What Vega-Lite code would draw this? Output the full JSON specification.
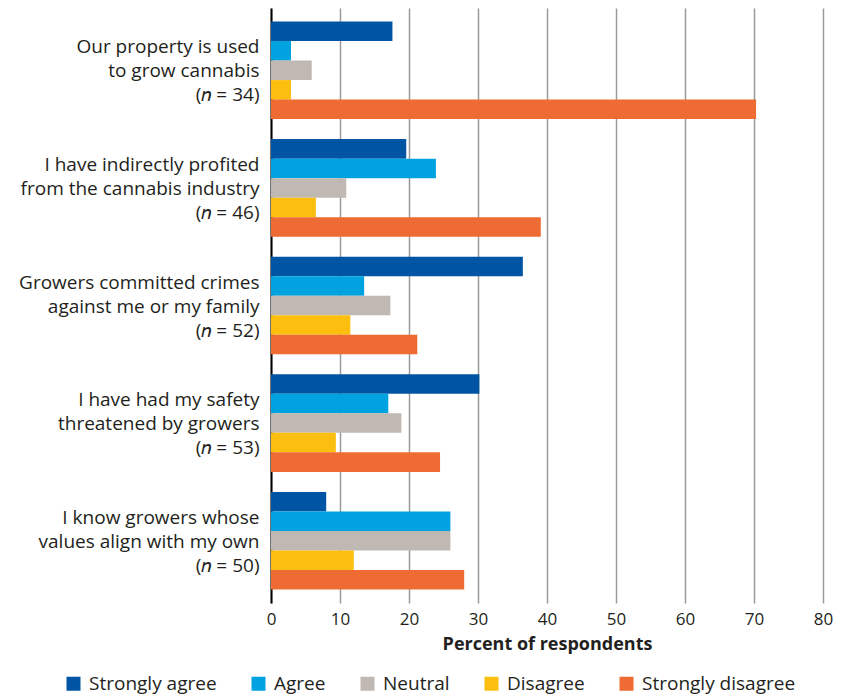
{
  "$schema": "https://vega.github.io/schema/vega-lite/v6.json",
  "width": 552,
  "height": 595,
  "autosize": "none",
  "padding": {"left": 271, "top": 8, "right": 23, "bottom": 93},
  "background": "white",
  "config": {
    "font": "Open Sans",
    "view": {"stroke": null},
    "axis": {"labelColor": "#231f20", "titleColor": "#231f20"}
  },
  "data": {
    "values": [
      {"q": "Our property is used|to grow cannabis|(𝑛 = 34)", "r": "Strongly agree", "v": 17.6},
      {"q": "Our property is used|to grow cannabis|(𝑛 = 34)", "r": "Agree", "v": 2.9},
      {"q": "Our property is used|to grow cannabis|(𝑛 = 34)", "r": "Neutral", "v": 5.9},
      {"q": "Our property is used|to grow cannabis|(𝑛 = 34)", "r": "Disagree", "v": 2.9},
      {"q": "Our property is used|to grow cannabis|(𝑛 = 34)", "r": "Strongly disagree", "v": 70.3},
      {"q": "I have indirectly profited|from the cannabis industry|(𝑛 = 46)", "r": "Strongly agree", "v": 19.6},
      {"q": "I have indirectly profited|from the cannabis industry|(𝑛 = 46)", "r": "Agree", "v": 23.9},
      {"q": "I have indirectly profited|from the cannabis industry|(𝑛 = 46)", "r": "Neutral", "v": 10.9},
      {"q": "I have indirectly profited|from the cannabis industry|(𝑛 = 46)", "r": "Disagree", "v": 6.5},
      {"q": "I have indirectly profited|from the cannabis industry|(𝑛 = 46)", "r": "Strongly disagree", "v": 39.1},
      {"q": "Growers committed crimes|against me or my family|(𝑛 = 52)", "r": "Strongly agree", "v": 36.5},
      {"q": "Growers committed crimes|against me or my family|(𝑛 = 52)", "r": "Agree", "v": 13.5},
      {"q": "Growers committed crimes|against me or my family|(𝑛 = 52)", "r": "Neutral", "v": 17.3},
      {"q": "Growers committed crimes|against me or my family|(𝑛 = 52)", "r": "Disagree", "v": 11.5},
      {"q": "Growers committed crimes|against me or my family|(𝑛 = 52)", "r": "Strongly disagree", "v": 21.2},
      {"q": "I have had my safety|threatened by growers|(𝑛 = 53)", "r": "Strongly agree", "v": 30.2},
      {"q": "I have had my safety|threatened by growers|(𝑛 = 53)", "r": "Agree", "v": 17.0},
      {"q": "I have had my safety|threatened by growers|(𝑛 = 53)", "r": "Neutral", "v": 18.9},
      {"q": "I have had my safety|threatened by growers|(𝑛 = 53)", "r": "Disagree", "v": 9.4},
      {"q": "I have had my safety|threatened by growers|(𝑛 = 53)", "r": "Strongly disagree", "v": 24.5},
      {"q": "I know growers whose|values align with my own|(𝑛 = 50)", "r": "Strongly agree", "v": 8.0},
      {"q": "I know growers whose|values align with my own|(𝑛 = 50)", "r": "Agree", "v": 26.0},
      {"q": "I know growers whose|values align with my own|(𝑛 = 50)", "r": "Neutral", "v": 26.0},
      {"q": "I know growers whose|values align with my own|(𝑛 = 50)", "r": "Disagree", "v": 12.0},
      {"q": "I know growers whose|values align with my own|(𝑛 = 50)", "r": "Strongly disagree", "v": 28.0}
    ]
  },
  "mark": {"type": "bar"},
  "encoding": {
    "y": {
      "field": "q",
      "type": "nominal",
      "sort": null,
      "scale": {"paddingInner": 0.17, "paddingOuter": 0.115},
      "axis": {
        "title": null,
        "ticks": false,
        "domain": true,
        "domainColor": "#000000",
        "domainWidth": 2,
        "labelExpr": "split(datum.label, '|')",
        "labelFontSize": 19,
        "labelLineHeight": 24,
        "labelPadding": 12,
        "labelOffset": -23,
        "labelLimit": 300
      }
    },
    "yOffset": {
      "field": "r",
      "type": "nominal",
      "sort": ["Strongly agree", "Agree", "Neutral", "Disagree", "Strongly disagree"],
      "scale": {"paddingInner": 0, "paddingOuter": 0}
    },
    "x": {
      "field": "v",
      "type": "quantitative",
      "scale": {"domain": [0, 80], "nice": false},
      "axis": {
        "title": "Percent of respondents",
        "titleFontSize": 18,
        "titleFontWeight": "bold",
        "titlePadding": 8,
        "values": [0, 10, 20, 30, 40, 50, 60, 70, 80],
        "ticks": false,
        "domain": false,
        "grid": true,
        "gridColor": "#9a9a9a",
        "gridWidth": 1.5,
        "labelFontSize": 17,
        "labelPadding": 8,
        "labelFlush": false
      }
    },
    "color": {
      "field": "r",
      "type": "nominal",
      "scale": {
        "domain": ["Strongly agree", "Agree", "Neutral", "Disagree", "Strongly disagree"],
        "range": ["#0054a4", "#00a3e0", "#c0b8b2", "#fdbf0f", "#ee6b33"]
      },
      "legend": {
        "title": null,
        "orient": "none",
        "direction": "horizontal",
        "columns": 5,
        "legendX": -207,
        "legendY": 666,
        "symbolType": "square",
        "symbolSize": 196,
        "symbolStrokeWidth": 0,
        "symbolOpacity": 1,
        "labelFontSize": 19,
        "labelColor": "#231f20",
        "labelOffset": 6,
        "columnPadding": 32,
        "labelLimit": 300
      }
    }
  }
}
